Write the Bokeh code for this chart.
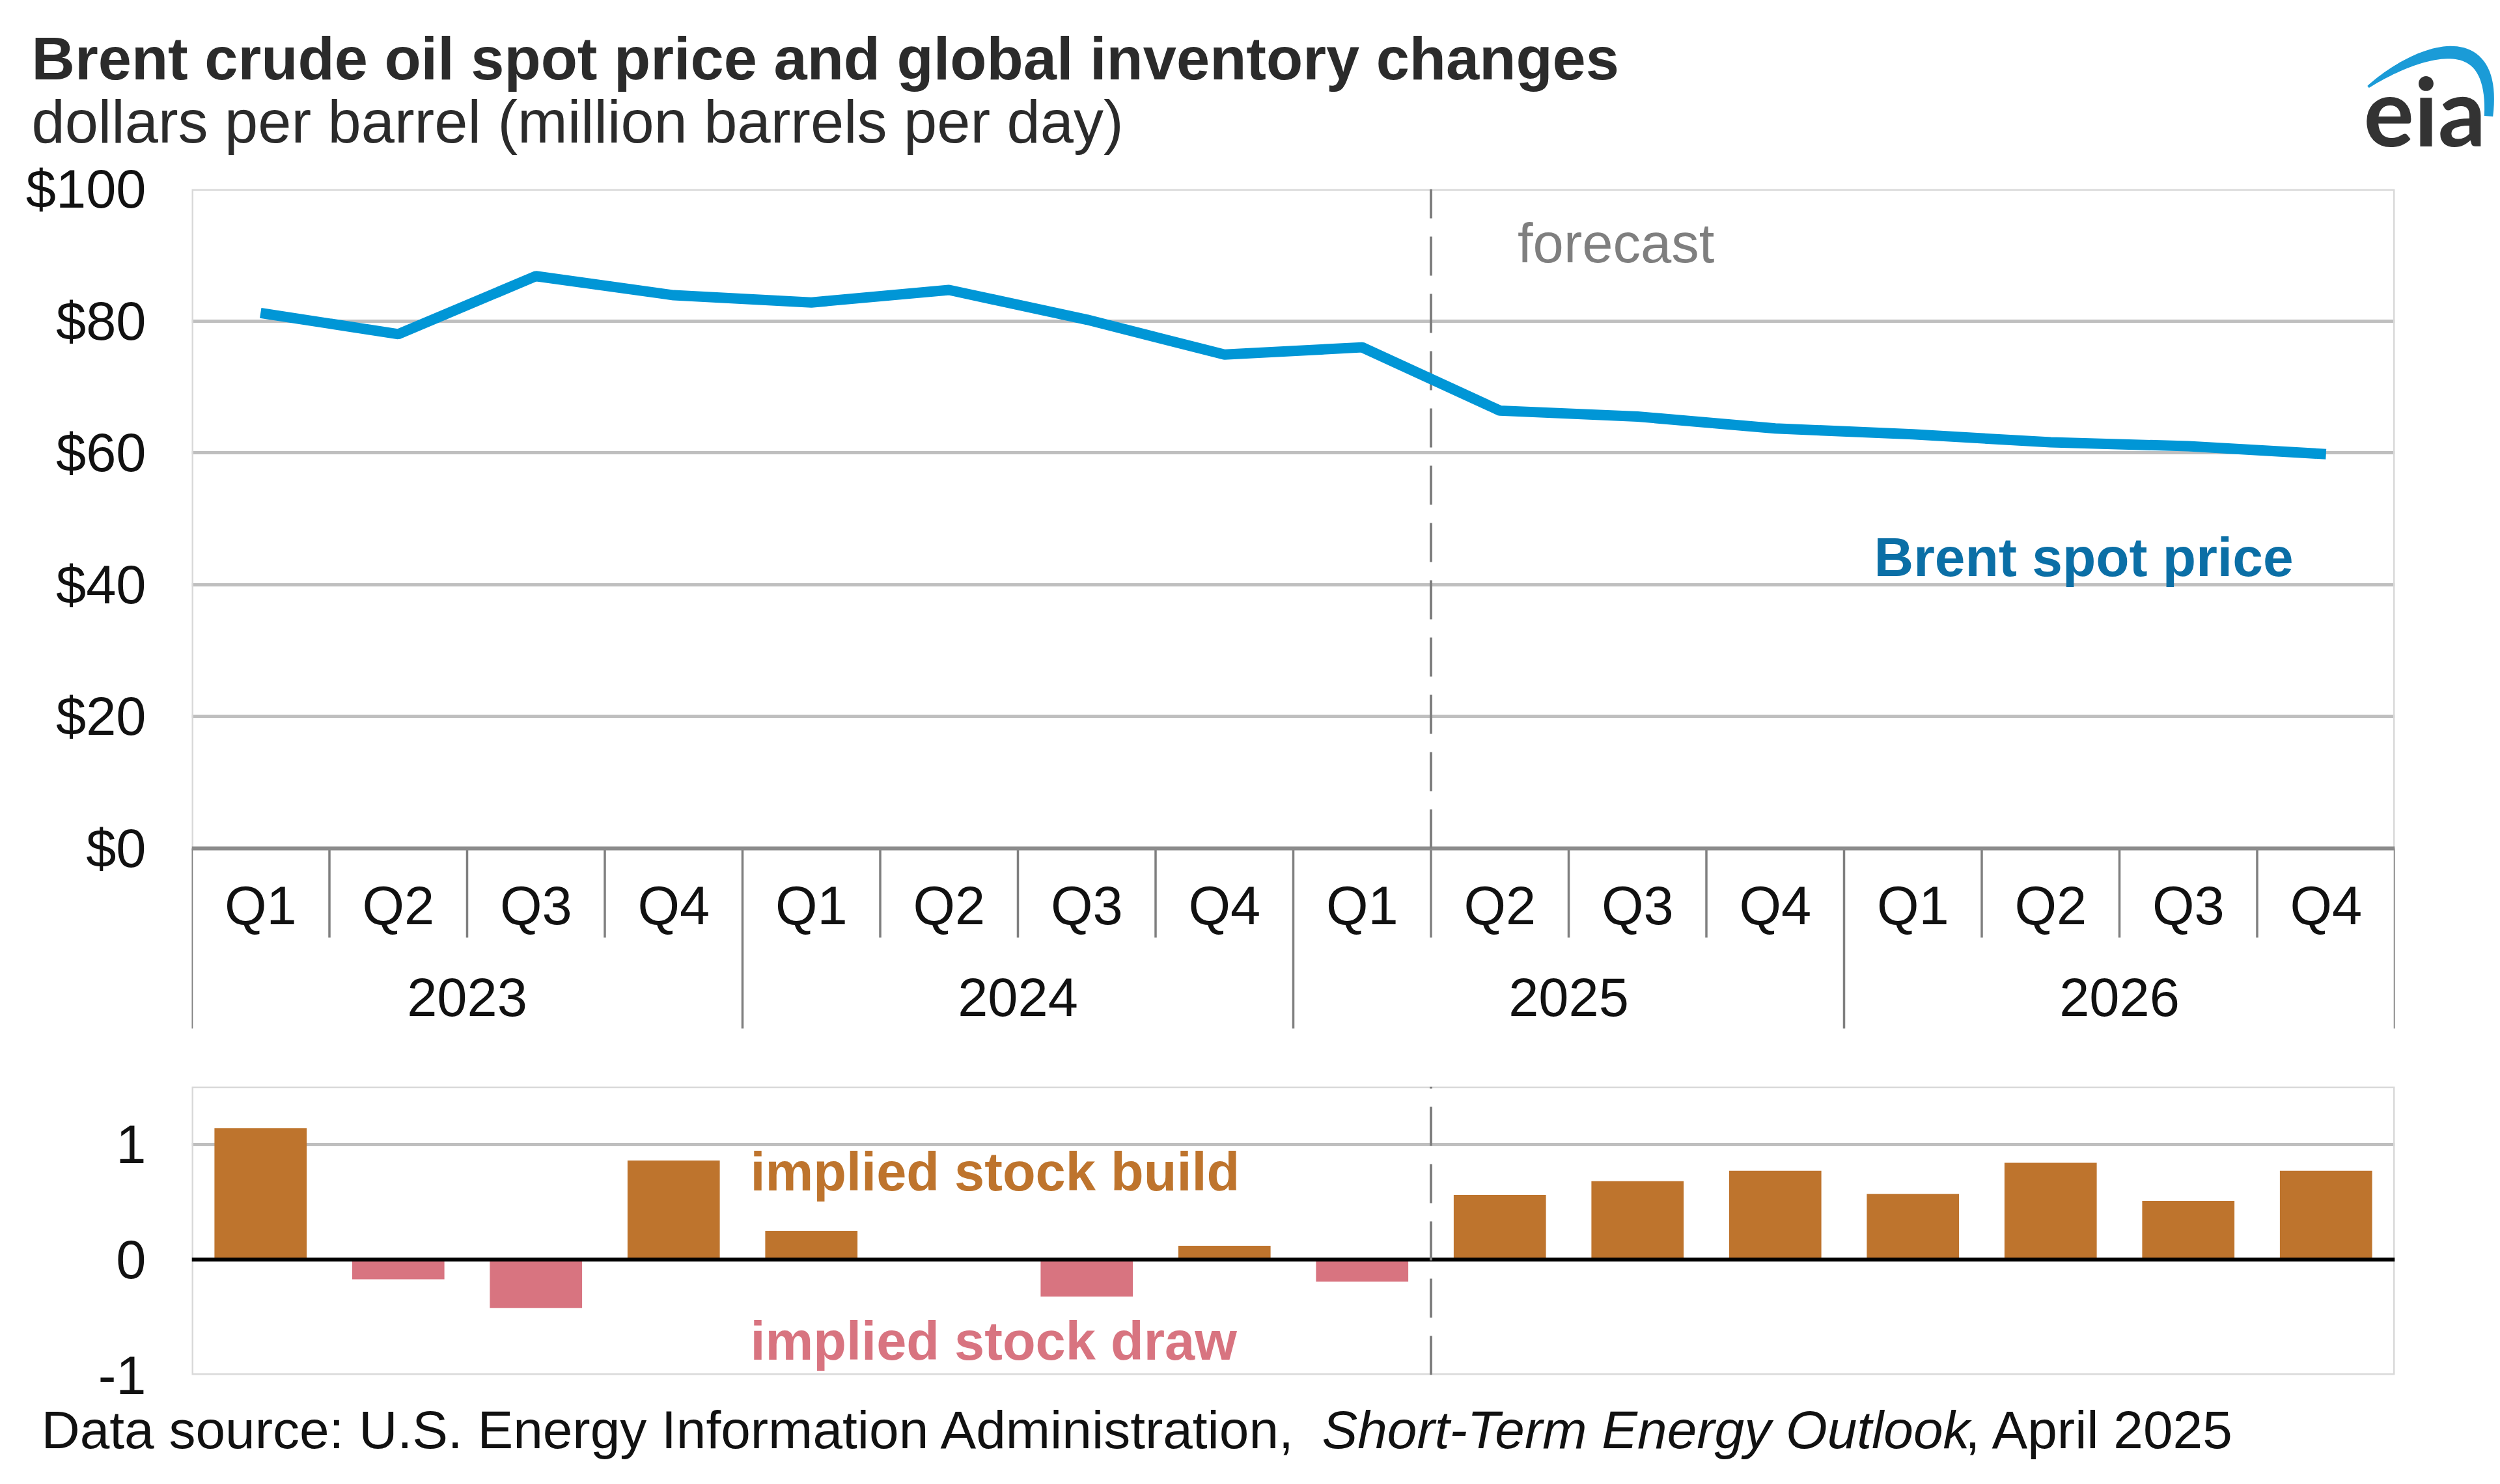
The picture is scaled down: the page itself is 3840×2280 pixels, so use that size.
import math
from bokeh.plotting import figure
from bokeh.layouts import column
from bokeh.models import FactorRange, Range1d, FixedTicker, NumeralTickFormatter
from bokeh.core.properties import value
from bokeh.embed import file_html
from bokeh.resources import INLINE

# ---------------- data ----------------
years = ["2023", "2024", "2025", "2026"]
quarters = ["Q1", "Q2", "Q3", "Q4"]
brent_price = [81.2, 78.0, 86.8, 83.9, 82.8, 84.7, 80.2, 74.9,
               76.0, 66.4, 65.5, 63.7, 62.8, 61.6, 61.0, 59.8]
stock_change = [1.14, -0.17, -0.42, 0.86, 0.25, 0.0, -0.32, 0.12,
                -0.19, 0.56, 0.68, 0.77, 0.57, 0.84, 0.51, 0.77]
forecast_start = ("2025", "Q2")
price_ticks = [0, 20, 40, 60, 80, 100]
stock_ticks = [-1, 0, 1]

title_text = "Brent crude oil spot price and global inventory changes"
subtitle_text = "dollars per barrel (million barrels per day)"
source_parts = ["Data source: U.S. Energy Information Administration,",
                "Short-Term Energy Outlook", ", April 2025"]

# ---------------- style / layout ----------------
FONT = value("Liberation Sans")
FONT_NAME = "Liberation Sans"
W, H = 3840, 2280
LINE_BLUE = "#0096D6"
LABEL_BLUE = "#0B6FA6"
LOGO_BLUE = "#1B9BD7"
BUILD = "#BE742D"
DRAW = "#D87480"
GRID = "#BFBFBF"
BORDER = "#D9D9D9"
SEP = "#7F7F7F"
TXT = "#111111"
HEAD = "#2b2b2b"
AX_FS = "83px"

# page-pixel geometry
FR_LEFT, FR_RIGHT = 294, 3678
P1_TOP, P1_ZERO, P1_BOTTOM, P1_END = 290, 1303, 1580, 1600
P2_TOP, P2_BOTTOM = 1669, 2112


def bare(p):
    p.outline_line_color = None
    p.background_fill_color = "white"
    p.border_fill_color = "white"
    for g in p.grid:
        g.grid_line_color = None


def style_yaxis(ax):
    ax.axis_line_color = None
    ax.major_tick_line_color = None
    ax.minor_tick_line_color = None
    ax.major_tick_out = 0
    ax.major_label_standoff = 70
    ax.major_label_text_font = FONT_NAME
    ax.major_label_text_font_size = AX_FS
    ax.major_label_text_color = TXT


factors = [(y, q) for y in years for q in quarters]
q_labels = [q for y in years for q in quarters]
n = len(factors)
fc = factors.index(forecast_start)
x_range = FactorRange(*factors, factor_padding=0, group_padding=0,
                      subgroup_padding=0, range_padding=0)

px_per_x = (FR_RIGHT - FR_LEFT) / n
px_per_usd = (P1_ZERO - P1_TOP) / 100.0
y1_floor = -(P1_BOTTOM - P1_ZERO) / px_per_usd
p2_lo, p2_hi = -1.0, 1.5
px_per_mb = (P2_BOTTOM - P2_TOP) / (p2_hi - p2_lo)


def xd(px):
    return (px - FR_LEFT) / px_per_x


def yd1(py):
    return (P1_ZERO - py) / px_per_usd


def yd2(py):
    return p2_hi - (py - P2_TOP) / px_per_mb


# ---------------- price panel (with heading) ----------------
p1 = figure(width=W, height=P1_END, x_range=x_range, y_range=Range1d(y1_floor, 100),
            x_axis_location=None, y_axis_location="left", toolbar_location=None,
            output_backend="svg", title=None,
            min_border_left=FR_LEFT, min_border_right=W - FR_RIGHT,
            min_border_top=P1_TOP, min_border_bottom=P1_END - P1_BOTTOM)
bare(p1)
p1.ygrid.ticker = FixedTicker(ticks=[t for t in price_ticks if 0 < t < 100])
p1.ygrid.grid_line_color = GRID
p1.ygrid.grid_line_width = 5
ax = p1.yaxis[0]
ax.ticker = FixedTicker(ticks=price_ticks)
ax.formatter = NumeralTickFormatter(format="$0")
style_yaxis(ax)

p1.quad(left=[0], right=[n], bottom=[0], top=[100], fill_color=None,
        line_color=BORDER, line_width=5)
qtr_floor = yd1(1440)
sep_x = list(range(n + 1))
sep_bottom = [y1_floor if i % len(quarters) == 0 else qtr_floor for i in sep_x]
p1.segment(x0=sep_x, y0=[0] * len(sep_x), x1=sep_x, y1=sep_bottom,
           line_color=SEP, line_width=3.5)
p1.segment(x0=[0], y0=[0], x1=[n], y1=[0], line_color="#8C8C8C", line_width=6)
p1.segment(x0=[fc], y0=[0], x1=[fc], y1=[100], line_color=SEP, line_width=4,
           line_dash="60 28")
p1.text(x=factors, y=[yd1(1391)] * n, text=q_labels, text_font=FONT,
        text_font_size=AX_FS, text_color=TXT, text_align="center",
        text_baseline="middle")
p1.text(x=years, y=[yd1(1531)] * len(years), text=years, text_font=FONT,
        text_font_size=AX_FS, text_color=TXT, text_align="center",
        text_baseline="middle")
p1.line(x=factors, y=brent_price, line_color=LINE_BLUE, line_width=16)
p1.text(x=[fc], y=[yd1(373)], x_offset=133, text=["forecast"], text_font=FONT,
        text_font_size="85px", text_color="#7F7F7F", text_baseline="middle")
p1.text(x=[xd(2878)], y=[yd1(855)], text=["Brent spot price"], text_font=FONT,
        text_font_size="84px", text_font_style="bold", text_color=LABEL_BLUE,
        text_baseline="middle")

# heading (drawn at overlay level so it may sit in the border above the frame)
p1.text(x=[xd(48)], y=[yd1(89)], text=[title_text], text_font=FONT,
        text_font_size="92px", text_font_style="bold", text_color=HEAD,
        text_baseline="middle", level="overlay")
p1.text(x=[xd(48)], y=[yd1(186)], text=[subtitle_text], text_font=FONT,
        text_font_size="92px", text_color=HEAD, text_baseline="middle",
        level="overlay")
# eia logo: word mark + swoosh
p1.text(x=[xd(3630)], y=[yd1(168)], text=["eia"], text_font=value("Lato"),
        text_font_size="145px", text_font_style="bold", text_color="#333333",
        text_baseline="middle", level="overlay")
P0, C0, C1, P3 = (3637, 133), (3700, 85), (3835, 25), (3822, 178)
steps = 48
centre, normals, widths = [], [], []
for i in range(steps + 1):
    t = i / steps
    mt = 1 - t
    bx = mt**3 * P0[0] + 3 * mt**2 * t * C0[0] + 3 * mt * t**2 * C1[0] + t**3 * P3[0]
    by = mt**3 * P0[1] + 3 * mt**2 * t * C0[1] + 3 * mt * t**2 * C1[1] + t**3 * P3[1]
    dx = 3 * mt**2 * (C0[0] - P0[0]) + 6 * mt * t * (C1[0] - C0[0]) + 3 * t**2 * (P3[0] - C1[0])
    dy = 3 * mt**2 * (C0[1] - P0[1]) + 6 * mt * t * (C1[1] - C0[1]) + 3 * t**2 * (P3[1] - C1[1])
    ln = math.hypot(dx, dy) or 1.0
    centre.append((bx, by))
    normals.append((-dy / ln, dx / ln))
    widths.append(4 + 16 * math.sin(0.8 * math.pi * t))
outer = [(c[0] + m[0] * w / 2, c[1] + m[1] * w / 2) for c, m, w in zip(centre, normals, widths)]
inner = [(c[0] - m[0] * w / 2, c[1] - m[1] * w / 2) for c, m, w in zip(centre, normals, widths)]
ring = outer + inner[::-1]
p1.patch(x=[xd(px) for px, _ in ring], y=[yd1(py) for _, py in ring],
         fill_color=LOGO_BLUE, line_color=None, level="overlay")

# ---------------- inventory panel (with source note) ----------------
p2 = figure(width=W, height=H - P1_END, x_range=x_range, y_range=Range1d(p2_lo, p2_hi),
            x_axis_location=None, y_axis_location="left", toolbar_location=None,
            output_backend="svg", title=None,
            min_border_left=FR_LEFT, min_border_right=W - FR_RIGHT,
            min_border_top=P2_TOP - P1_END, min_border_bottom=H - P2_BOTTOM)
bare(p2)
p2.ygrid.ticker = FixedTicker(ticks=[1])
p2.ygrid.grid_line_color = GRID
p2.ygrid.grid_line_width = 5
ax2 = p2.yaxis[0]
ax2.ticker = FixedTicker(ticks=stock_ticks)
ax2.major_label_overrides = {t: str(t) for t in stock_ticks}
style_yaxis(ax2)

p2.quad(left=[0], right=[n], bottom=[p2_lo], top=[p2_hi], fill_color=None,
        line_color=BORDER, line_width=5)
bar_colors = [BUILD if v >= 0 else DRAW for v in stock_change]
p2.vbar(x=factors, top=stock_change, bottom=0, width=0.67, fill_color=bar_colors,
        line_color=None)
p2.segment(x0=[0], y0=[0], x1=[n], y1=[0], line_color="black", line_width=6)
p2.segment(x0=[fc], y0=[p2_lo], x1=[fc], y1=[p2_hi], line_color=SEP, line_width=4,
           line_dash="60 28")
p2.text(x=[xd(1152)], y=[yd2(1800)], text=["implied stock build"], text_font=FONT,
        text_font_size="83px", text_font_style="bold", text_color=BUILD,
        text_baseline="middle")
p2.text(x=[xd(1152)], y=[yd2(2060)], text=["implied stock draw"], text_font=FONT,
        text_font_size="83px", text_font_style="bold", text_color=DRAW,
        text_baseline="middle")

foot_y = yd2(2196)
p2.text(x=[xd(63)], y=[foot_y], text=[source_parts[0]], text_font=FONT,
        text_font_size="82px", text_color=TXT, text_baseline="middle", level="overlay")
p2.text(x=[xd(2030)], y=[foot_y], text=[source_parts[1]], text_font=FONT,
        text_font_size="82px", text_font_style="italic", text_color=TXT,
        text_baseline="middle", level="overlay")
p2.text(x=[xd(3018)], y=[foot_y], text=[source_parts[2]], text_font=FONT,
        text_font_size="82px", text_color=TXT, text_baseline="middle", level="overlay")

layout = column(p1, p2, spacing=0)
open("out.html", "w").write(file_html(layout, INLINE))
